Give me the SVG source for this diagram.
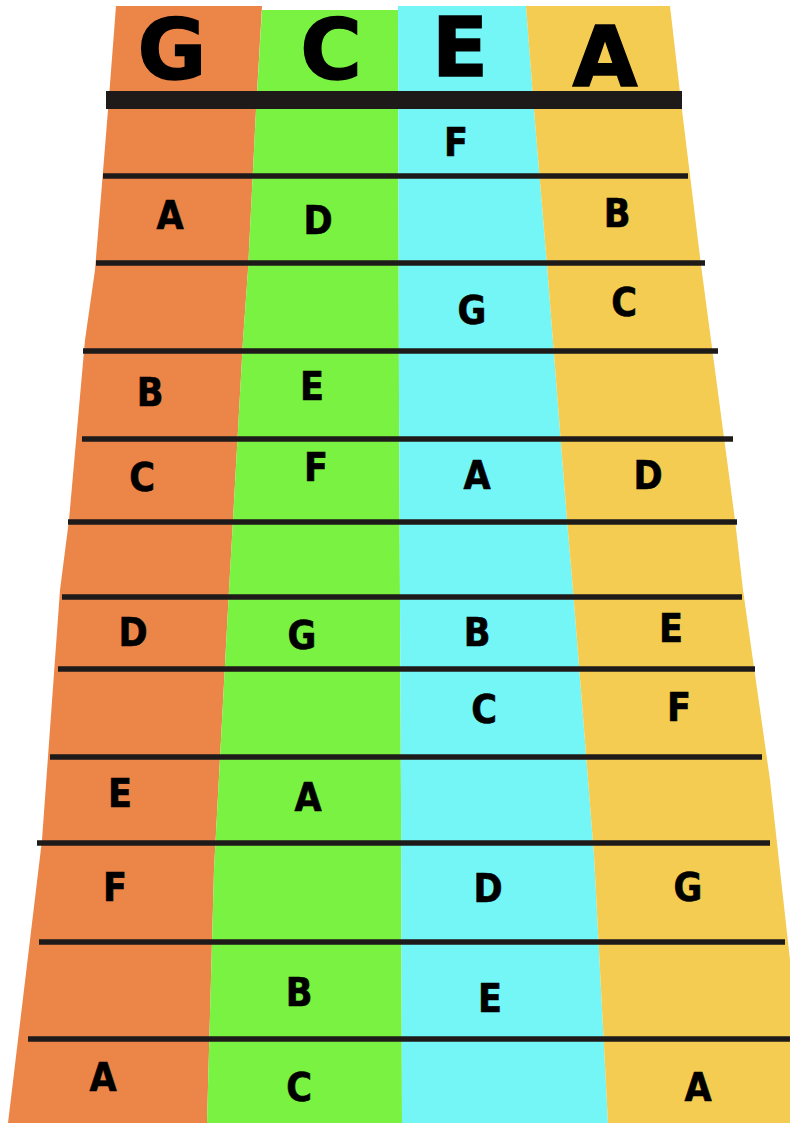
<svg xmlns="http://www.w3.org/2000/svg" width="790" height="1123" viewBox="0 0 790 1123">
<style>
.hd{font-family:"DejaVu Sans","Liberation Sans",sans-serif;font-weight:bold;font-size:84px;fill:#000;stroke:#000;stroke-width:1.5;text-anchor:middle}
.n{font-family:"DejaVu Sans Condensed","DejaVu Sans","Liberation Sans",sans-serif;font-stretch:condensed;font-weight:bold;font-size:39px;fill:#000;stroke:#000;stroke-width:0.6;text-anchor:middle}
.fret{stroke:#1e1a1a;stroke-width:5.5;fill:none}
</style>
<rect width="790" height="1123" fill="#fff"/>
<g id="string-G">
<polygon fill="#EC8548" points="116,6 262,6 256,110 248,270 243,340 233,520 229,590 214,870 207,1123 8,1123 42,840 60,590 69,520 85,340 95,270 108,110"/>
<text class="hd" x="172" y="79">G</text>
<text class="n" x="170" y="229">A</text>
<text class="n" x="150" y="406">B</text>
<text class="n" x="142" y="491">C</text>
<text class="n" x="133" y="646">D</text>
<text class="n" x="120" y="807">E</text>
<text class="n" x="115" y="901">F</text>
<text class="n" x="103" y="1091">A</text>
</g>
<g id="string-C">
<polygon fill="#7AF241" points="262,10 398,10 399,400 401,800 402,1123 207,1123 214,870 229,590 233,520 243,340 248,270 256,110"/>
<text class="hd" x="331" y="79">C</text>
<text class="n" x="318" y="234">D</text>
<text class="n" x="312" y="400">E</text>
<text class="n" x="316" y="481">F</text>
<text class="n" x="302" y="649">G</text>
<text class="n" x="308" y="811">A</text>
<text class="n" x="299" y="1006">B</text>
<text class="n" x="299" y="1101">C</text>
</g>
<g id="string-E">
<polygon fill="#74F6F7" points="398,6 526,6 534,110 547,265 567,520 573,590 594,855 608,1123 402,1123 401,800 399,400"/>
<text class="hd" x="460" y="76" style="font-size:82px">E</text>
<text class="n" x="456" y="156">F</text>
<text class="n" x="472" y="324">G</text>
<text class="n" x="477" y="489">A</text>
<text class="n" x="477" y="646">B</text>
<text class="n" x="484" y="723">C</text>
<text class="n" x="488" y="902">D</text>
<text class="n" x="490" y="1012">E</text>
</g>
<g id="string-A">
<polygon fill="#F4CC52" points="526,6 670,6 682,110 701,265 735,520 743,590 770,780 790,960 790,1123 608,1123 594,855 573,590 567,520 547,265 534,110"/>
<text class="hd" x="605" y="86">A</text>
<text class="n" x="617" y="227">B</text>
<text class="n" x="624" y="316">C</text>
<text class="n" x="648" y="489">D</text>
<text class="n" x="671" y="642">E</text>
<text class="n" x="679" y="721">F</text>
<text class="n" x="688" y="901">G</text>
<text class="n" x="698" y="1101">A</text>
</g>
<g id="frets">
<rect x="106" y="91" width="576" height="18" fill="#1e1a1a"/>
<line class="fret" x1="103" y1="176" x2="688" y2="176"/>
<line class="fret" x1="96" y1="263" x2="705" y2="263"/>
<line class="fret" x1="83" y1="351" x2="718" y2="351"/>
<line class="fret" x1="82" y1="439" x2="733" y2="439"/>
<line class="fret" x1="68" y1="522" x2="737" y2="522"/>
<line class="fret" x1="62" y1="597" x2="742" y2="597"/>
<line class="fret" x1="58" y1="669" x2="755" y2="669"/>
<line class="fret" x1="50" y1="757" x2="762" y2="757"/>
<line class="fret" x1="37" y1="843" x2="770" y2="843"/>
<line class="fret" x1="39" y1="942" x2="785" y2="942"/>
<line class="fret" x1="28" y1="1039" x2="790" y2="1039"/>
</g>
</svg>
